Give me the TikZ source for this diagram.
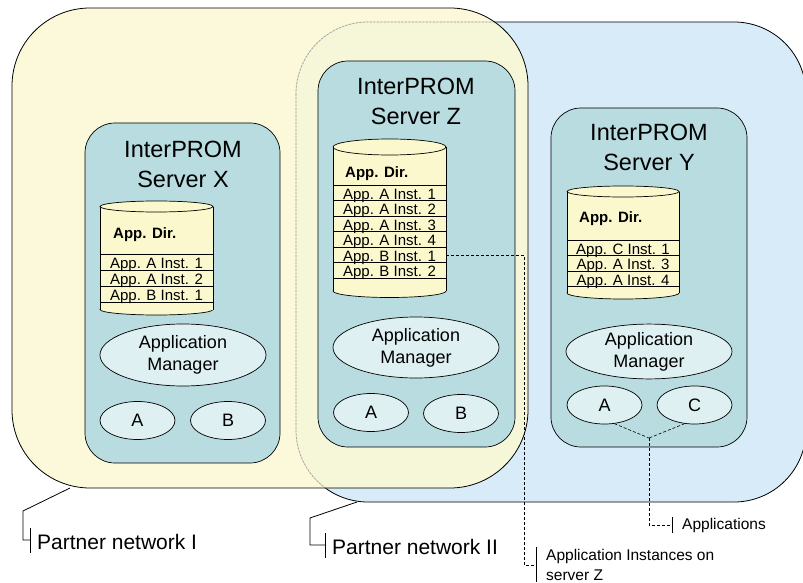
\documentclass[tikz,border=0pt]{standalone}
\usepackage{fontspec}
\setmainfont{Liberation Sans}
\usetikzlibrary{shapes.geometric}
\definecolor{pyellow}{RGB}{251,248,212}
\definecolor{pblue}{RGB}{216,235,249}
\definecolor{srv}{RGB}{184,220,224}
\definecolor{cylc}{RGB}{251,248,206}
\definecolor{ellc}{RGB}{222,240,242}
\begin{document}
\begin{tikzpicture}[x=1pt,y=-1pt,
  net/.style={draw=black, line width=0.8pt, rounded corners=78pt},
  srvbox/.style={draw=black, fill=srv, line width=0.7pt, rounded corners=30pt},
  title/.style={align=center, inner sep=0pt, font=\fontsize{23.5}{30}\selectfont},
  mgr/.style={ellipse, draw, fill=ellc, line width=0.7pt, inner sep=0pt, minimum width=166pt, align=center, font=\fontsize{18}{22}\selectfont},
  app/.style={ellipse, draw, fill=ellc, line width=0.7pt, inner sep=0pt, minimum width=75pt, minimum height=38pt, font=\fontsize{18}{22}\selectfont},
  row/.style={anchor=base, inner sep=0pt, font=\fontsize{15}{18}\selectfont},
  dirlbl/.style={anchor=base west, inner sep=0pt, font=\bfseries\fontsize{15}{18}\selectfont},
  lbl/.style={anchor=west, inner sep=0pt, align=left, font=\fontsize{15.5}{20}\selectfont},
  plbl/.style={anchor=west, inner sep=0pt, font=\fontsize{21}{25}\selectfont},
  dsh/.style={draw, dash pattern=on 3pt off 2pt, line width=0.6pt},
  bar/.style={draw, line width=0.8pt},
  cyline/.style={draw, line width=0.7pt}
]
\useasboundingbox (0,0) rectangle (803,583);

% partner networks
\draw[net, fill=pblue, rounded corners=72pt] (296,22) rectangle (806,502);
\fill[pyellow, fill opacity=0.88, rounded corners=78pt] (12,8) rectangle (528,488);
\begin{scope}
  \clip[rounded corners=78pt] (12,8) rectangle (528,488);
  \draw[gray!70, line width=0.7pt, dash pattern=on 2pt off 1.5pt, rounded corners=72pt] (296,22) rectangle (806,502);
\end{scope}
\draw[net] (12,8) rectangle (528,488);

% server boxes
\draw[srvbox] (85,123) rectangle (280,463);
\draw[srvbox] (318,61) rectangle (515,447);
\draw[srvbox] (551,108) rectangle (747,447);

\node[title] (tX) at (183,164) {InterPROM\\Server X};
\node[title] (tZ) at (416,101.5) {InterPROM\\Server Z};
\node[title] (tY) at (649,147.5) {InterPROM\\Server Y};

% cylinder X
\filldraw[fill=cylc, line width=0.7pt] (156.5,309.5) ellipse [x radius=56.5pt, y radius=5.5pt];
\fill[cylc] (100,206.5) rectangle (213,309.5);
\draw[cyline] (100,206.5) -- (100,309.5) (213,206.5) -- (213,309.5);
\filldraw[fill=cylc, line width=0.7pt] (156.5,206.5) ellipse [x radius=56.5pt, y radius=5.5pt];
\draw[cyline] (100,254) -- (213,254) (100,270) -- (213,270) (100,286) -- (213,286) (100,302) -- (213,302);
\node[dirlbl] (dX) at (113,238) {App. Dir.};
\node[row] (xr1) at (156.5,268.5) {App. A Inst. 1};
\node[row] (xr2) at (156.5,284.5) {App. A Inst. 2};
\node[row] (xr3) at (156.5,300.5) {App. B Inst. 1};

% cylinder Z
\filldraw[fill=cylc, line width=0.7pt] (389.5,291) ellipse [x radius=56.5pt, y radius=6.5pt];
\fill[cylc] (333,147) rectangle (446,291);
\draw[cyline] (333,147) -- (333,291) (446,147) -- (446,291);
\filldraw[fill=cylc, line width=0.7pt] (389.5,147) ellipse [x radius=56.5pt, y radius=8pt];
\foreach \yy in {185,200.5,216,231.5,247,262.5,278} \draw[cyline] (333,\yy) -- (446,\yy);
\node[dirlbl] (dZ) at (345,177) {App. Dir.};
\node[row] (zr1) at (389.5,199) {App. A Inst. 1};
\node[row] (zr2) at (389.5,214.5) {App. A Inst. 2};
\node[row] (zr3) at (389.5,230) {App. A Inst. 3};
\node[row] (zr4) at (389.5,245.5) {App. A Inst. 4};
\node[row] (zr5) at (389.5,261) {App. B Inst. 1};
\node[row] (zr6) at (389.5,276.5) {App. B Inst. 2};
\coordinate (zB1) at (446,255);

% cylinder Y
\filldraw[fill=cylc, line width=0.7pt] (623,293) ellipse [x radius=56pt, y radius=6pt];
\fill[cylc] (567,191.5) rectangle (679,293);
\draw[cyline] (567,191.5) -- (567,293) (679,191.5) -- (679,293);
\filldraw[fill=cylc, line width=0.7pt] (623,191.5) ellipse [x radius=56pt, y radius=5.5pt];
\draw[cyline] (567,240) -- (679,240) (567,255.5) -- (679,255.5) (567,271) -- (679,271) (567,286.5) -- (679,286.5);
\node[dirlbl] (dY) at (579,222.5) {App. Dir.};
\node[row] (yr1) at (623,254) {App. C Inst. 1};
\node[row] (yr2) at (623,269.5) {App. A Inst. 3};
\node[row] (yr3) at (623,285) {App. A Inst. 4};

% application managers
\node[mgr, minimum height=62pt] (mX) at (183,355) {Application\\Manager};
\node[mgr, minimum height=61pt] (mZ) at (416,347.5) {Application\\Manager};
\node[mgr, minimum height=54pt] (mY) at (649,351.5) {Application\\Manager};

% applications
\node[app] (xA) at (137.5,420.5) {A};
\node[app] (xB) at (228,420.5) {B};
\node[app] (zA) at (371,412.5) {A};
\node[app] (zB) at (461,413.5) {B};
\node[app] (yA) at (604.5,405) {A};
\node[app] (yC) at (694.5,405) {C};

% callout: Applications
\coordinate (jn) at (649,438);
\coordinate (appBar) at (672,525);
\draw[dsh] (yA.-62) -- (jn);
\draw[dsh] (yC.-118) -- (jn);
\draw[dsh] (jn) |- (appBar);
\draw[bar] (672,517) -- (672,533);
\node[lbl] (appl) at (682,525) {Applications};

% callout: Application Instances on server Z
\coordinate (instBar) at (536,565);
\draw[dsh] (zB1) -- (524,255) |- (instBar);
\draw[bar] (536,547) -- (536,582);
\node[lbl] (inst) at (546,565) {Application Instances on\\server Z};

% callout: Partner network I
\coordinate (pI) at (70,488);
\coordinate (pIbar) at (30,540);
\draw[bar] (pI) -- (23,511) -- (23,540) -- (pIbar);
\draw[bar] (30,528) -- (30,553);
\node[plbl] (pn1) at (37,542) {Partner network I};

% callout: Partner network II
\coordinate (pII) at (357,502);
\coordinate (pIIbar) at (325,545);
\draw[bar] (pII) -- (310,518) -- (310,545) -- (pIIbar);
\draw[bar] (325,533) -- (325,558);
\node[plbl] (pn2) at (332,547) {Partner network II};
\end{tikzpicture}
\end{document}
